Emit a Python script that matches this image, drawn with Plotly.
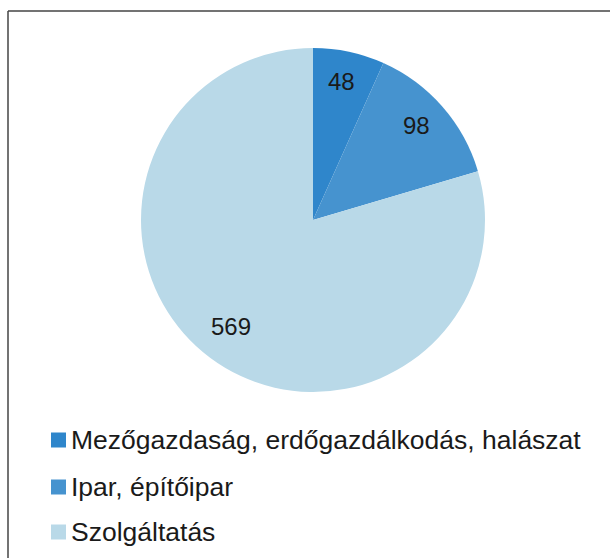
import math
import plotly.graph_objects as go

categories = ["Mezőgazdaság, erdőgazdálkodás, halászat", "Ipar, építőipar", "Szolgáltatás"]
values = [48, 98, 569]
colors = ["#2F86CB", "#4693CF", "#B9D9E8"]

W, H = 610, 558
FONT = "Liberation Sans, Arial, sans-serif"
CX, CY, R = 313, 220, 172  # pie centre and radius in pixels

fig = go.Figure()
fig.add_trace(go.Pie(
    labels=categories,
    values=values,
    marker=dict(colors=colors, line=dict(width=0)),
    sort=False,
    direction="clockwise",
    rotation=0,
    textinfo="none",
    domain=dict(x=[(CX - R) / W, (CX + R) / W], y=[1 - (CY + R) / H, 1 - (CY - R) / H]),
    showlegend=False,
    hoverinfo="label+value",
))

shapes = []
annotations = []

# data labels at 0.8 radius along each slice's mid angle (clockwise from 12 o'clock)
total = sum(values)
cum = 0
for v in values:
    mid = (cum + v / 2) / total * 2 * math.pi
    cum += v
    px = CX + 0.8 * R * math.sin(mid)
    py = CY - 0.8 * R * math.cos(mid) - 4
    annotations.append(dict(text=str(v), xref="paper", yref="paper", x=px / W, y=1 - py / H,
                            xanchor="center", yanchor="middle", showarrow=False,
                            font=dict(family=FONT, size=24, color="#1a1a1a")))

# legend
row_y = [440, 487, 532]
for cat, col, yc in zip(categories, colors, row_y):
    shapes.append(dict(type="rect", xref="paper", yref="paper",
                       x0=51 / W, x1=66 / W, y0=1 - (yc + 7.5) / H, y1=1 - (yc - 7.5) / H,
                       fillcolor=col, line=dict(width=0)))
    annotations.append(dict(text=cat, xref="paper", yref="paper", x=69 / W, y=1 - yc / H,
                            xanchor="left", yanchor="middle", showarrow=False,
                            font=dict(family=FONT, size=26.5, color="#1a1a1a")))

# frame lines (top and left)
shapes.append(dict(type="line", xref="paper", yref="paper", x0=8 / W, x1=1, y0=1 - 11 / H, y1=1 - 11 / H,
                   line=dict(color="#444444", width=1.5)))
shapes.append(dict(type="line", xref="paper", yref="paper", x0=8 / W, x1=8 / W, y0=0, y1=1 - 11 / H,
                   line=dict(color="#444444", width=1.5)))

fig.update_layout(
    width=W, height=H,
    margin=dict(l=0, r=0, t=0, b=0),
    paper_bgcolor="white",
    plot_bgcolor="white",
    shapes=shapes,
    annotations=annotations,
)

fig.write_html("out.html")
